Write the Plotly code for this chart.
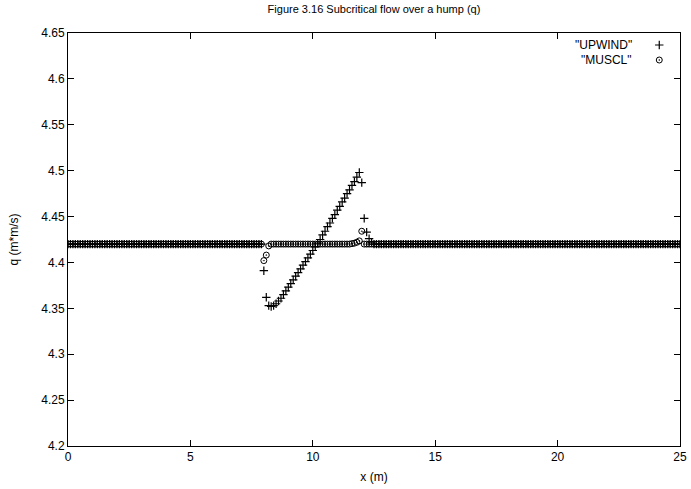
import plotly.graph_objects as go

# ---- data (x grid: 0 .. 25 m, step 0.1 m) ----
x_start = 0.0
x_step = 0.1
n_points = 251
x_vals = [round(x_start + i * x_step, 1) for i in range(n_points)]

q_upwind = [
    4.42, 4.42, 4.42, 4.42, 4.42, 4.42, 4.42, 4.42, 4.42, 4.42,
    4.42, 4.42, 4.42, 4.42, 4.42, 4.42, 4.42, 4.42, 4.42, 4.42,
    4.42, 4.42, 4.42, 4.42, 4.42, 4.42, 4.42, 4.42, 4.42, 4.42,
    4.42, 4.42, 4.42, 4.42, 4.42, 4.42, 4.42, 4.42, 4.42, 4.42,
    4.42, 4.42, 4.42, 4.42, 4.42, 4.42, 4.42, 4.42, 4.42, 4.42,
    4.42, 4.42, 4.42, 4.42, 4.42, 4.42, 4.42, 4.42, 4.42, 4.42,
    4.42, 4.42, 4.42, 4.42, 4.42, 4.42, 4.42, 4.42, 4.42, 4.42,
    4.42, 4.42, 4.42, 4.42, 4.42, 4.42, 4.42, 4.42, 4.42, 4.42,
    4.391, 4.362, 4.353, 4.352, 4.353, 4.355, 4.358, 4.361, 4.365, 4.369,
    4.373, 4.377, 4.381, 4.385, 4.389, 4.393, 4.397, 4.401, 4.405, 4.409,
    4.413, 4.417, 4.421, 4.425, 4.430, 4.434, 4.439, 4.443, 4.448, 4.452,
    4.457, 4.461, 4.466, 4.470, 4.475, 4.479, 4.484, 4.488, 4.493, 4.498,
    4.487, 4.448, 4.433, 4.426, 4.422, 4.42, 4.42, 4.42, 4.42, 4.42,
    4.42, 4.42, 4.42, 4.42, 4.42, 4.42, 4.42, 4.42, 4.42, 4.42,
    4.42, 4.42, 4.42, 4.42, 4.42, 4.42, 4.42, 4.42, 4.42, 4.42,
    4.42, 4.42, 4.42, 4.42, 4.42, 4.42, 4.42, 4.42, 4.42, 4.42,
    4.42, 4.42, 4.42, 4.42, 4.42, 4.42, 4.42, 4.42, 4.42, 4.42,
    4.42, 4.42, 4.42, 4.42, 4.42, 4.42, 4.42, 4.42, 4.42, 4.42,
    4.42, 4.42, 4.42, 4.42, 4.42, 4.42, 4.42, 4.42, 4.42, 4.42,
    4.42, 4.42, 4.42, 4.42, 4.42, 4.42, 4.42, 4.42, 4.42, 4.42,
    4.42, 4.42, 4.42, 4.42, 4.42, 4.42, 4.42, 4.42, 4.42, 4.42,
    4.42, 4.42, 4.42, 4.42, 4.42, 4.42, 4.42, 4.42, 4.42, 4.42,
    4.42, 4.42, 4.42, 4.42, 4.42, 4.42, 4.42, 4.42, 4.42, 4.42,
    4.42, 4.42, 4.42, 4.42, 4.42, 4.42, 4.42, 4.42, 4.42, 4.42,
    4.42, 4.42, 4.42, 4.42, 4.42, 4.42, 4.42, 4.42, 4.42, 4.42,
    4.42,
]

q_muscl = [
    4.42, 4.42, 4.42, 4.42, 4.42, 4.42, 4.42, 4.42, 4.42, 4.42,
    4.42, 4.42, 4.42, 4.42, 4.42, 4.42, 4.42, 4.42, 4.42, 4.42,
    4.42, 4.42, 4.42, 4.42, 4.42, 4.42, 4.42, 4.42, 4.42, 4.42,
    4.42, 4.42, 4.42, 4.42, 4.42, 4.42, 4.42, 4.42, 4.42, 4.42,
    4.42, 4.42, 4.42, 4.42, 4.42, 4.42, 4.42, 4.42, 4.42, 4.42,
    4.42, 4.42, 4.42, 4.42, 4.42, 4.42, 4.42, 4.42, 4.42, 4.42,
    4.42, 4.42, 4.42, 4.42, 4.42, 4.42, 4.42, 4.42, 4.42, 4.42,
    4.42, 4.42, 4.42, 4.42, 4.42, 4.42, 4.42, 4.42, 4.42, 4.42,
    4.402, 4.408, 4.418, 4.42, 4.42, 4.42, 4.42, 4.42, 4.42, 4.42,
    4.42, 4.42, 4.42, 4.42, 4.42, 4.42, 4.42, 4.42, 4.42, 4.42,
    4.42, 4.42, 4.42, 4.42, 4.42, 4.42, 4.42, 4.42, 4.42, 4.42,
    4.42, 4.42, 4.42, 4.42, 4.42, 4.42, 4.4205, 4.421, 4.422, 4.4235,
    4.434, 4.42, 4.42, 4.42, 4.42, 4.42, 4.42, 4.42, 4.42, 4.42,
    4.42, 4.42, 4.42, 4.42, 4.42, 4.42, 4.42, 4.42, 4.42, 4.42,
    4.42, 4.42, 4.42, 4.42, 4.42, 4.42, 4.42, 4.42, 4.42, 4.42,
    4.42, 4.42, 4.42, 4.42, 4.42, 4.42, 4.42, 4.42, 4.42, 4.42,
    4.42, 4.42, 4.42, 4.42, 4.42, 4.42, 4.42, 4.42, 4.42, 4.42,
    4.42, 4.42, 4.42, 4.42, 4.42, 4.42, 4.42, 4.42, 4.42, 4.42,
    4.42, 4.42, 4.42, 4.42, 4.42, 4.42, 4.42, 4.42, 4.42, 4.42,
    4.42, 4.42, 4.42, 4.42, 4.42, 4.42, 4.42, 4.42, 4.42, 4.42,
    4.42, 4.42, 4.42, 4.42, 4.42, 4.42, 4.42, 4.42, 4.42, 4.42,
    4.42, 4.42, 4.42, 4.42, 4.42, 4.42, 4.42, 4.42, 4.42, 4.42,
    4.42, 4.42, 4.42, 4.42, 4.42, 4.42, 4.42, 4.42, 4.42, 4.42,
    4.42, 4.42, 4.42, 4.42, 4.42, 4.42, 4.42, 4.42, 4.42, 4.42,
    4.42, 4.42, 4.42, 4.42, 4.42, 4.42, 4.42, 4.42, 4.42, 4.42,
    4.42,
]

series_labels = ['"UPWIND"', '"MUSCL"']
x_ticks = [0, 5, 10, 15, 20, 25]
x_ticktext = ["0", "5", "10", "15", "20", "25"]
y_ticks = [4.2, 4.25, 4.3, 4.35, 4.4, 4.45, 4.5, 4.55, 4.6, 4.65]
y_ticktext = ["4.2", "4.25", "4.3", "4.35", "4.4", "4.45", "4.5", "4.55", "4.6", "4.65"]

FONT = "Liberation Sans, Arial, Helvetica, sans-serif"

W, H = 691, 489
ML, MR, MT, MB = 68, 7, 33, 43
PW = W - ML - MR
PH = H - MT - MB


def px_x(p):
    return (p - ML) / PW


def px_y(p):
    return (H - MB - p) / PH


fig = go.Figure()
fig.add_trace(go.Scatter(
    x=x_vals, y=q_upwind, mode="markers", name="",
    marker=dict(symbol="cross-thin-open", size=6, color="black",
                line=dict(color="black", width=1.2)),
    legend="legend",
))
fig.add_trace(go.Scatter(
    x=x_vals, y=q_muscl, mode="markers", name="",
    marker=dict(symbol="circle-open-dot", size=6, color="black",
                line=dict(color="black", width=1)),
    legend="legend2",
))

axis_common = dict(
    showgrid=False, zeroline=False, showline=True, linecolor="black",
    linewidth=1, mirror="allticks", ticks="inside", ticklen=6,
    tickcolor="black", tickwidth=1, automargin=False,
    tickfont=dict(family=FONT, size=12, color="black"),
)

fig.update_layout(
    width=W, height=H,
    margin=dict(l=ML, r=MR, t=MT, b=MB),
    paper_bgcolor="white", plot_bgcolor="white",
    font=dict(family=FONT, size=12, color="black"),
    title=dict(text="Figure 3.16 Subcritical flow over a hump (q)",
               x=px_x(376), xref="paper", xanchor="center",
               y=1 - 9 / H, yanchor="middle",
               font=dict(family=FONT, size=11, color="black")),
    xaxis=dict(range=[0, 25], tickvals=x_ticks, ticktext=x_ticktext,
               title=dict(text="x (m)", standoff=9,
                          font=dict(family=FONT, size=12)),
               **axis_common),
    yaxis=dict(range=[4.2, 4.65], tickvals=y_ticks, ticktext=y_ticktext,
               title=dict(text="q (m*m/s)", standoff=20,
                          font=dict(family=FONT, size=12)),
               **axis_common),
    showlegend=True,
    legend=dict(x=px_x(643), y=px_y(45), xanchor="left", yanchor="middle",
                bgcolor="rgba(0,0,0,0)", font=dict(family=FONT, size=12)),
    legend2=dict(x=px_x(643), y=px_y(60), xanchor="left", yanchor="middle",
                 bgcolor="rgba(0,0,0,0)", font=dict(family=FONT, size=12)),
    annotations=[
        dict(text=series_labels[0], x=px_x(638), y=px_y(45), xref="paper",
             yref="paper", xanchor="right", yanchor="middle", showarrow=False,
             font=dict(family=FONT, size=12, color="black")),
        dict(text=series_labels[1], x=px_x(638), y=px_y(60), xref="paper",
             yref="paper", xanchor="right", yanchor="middle", showarrow=False,
             font=dict(family=FONT, size=12, color="black")),
    ],
)

fig.write_html("out.html")
